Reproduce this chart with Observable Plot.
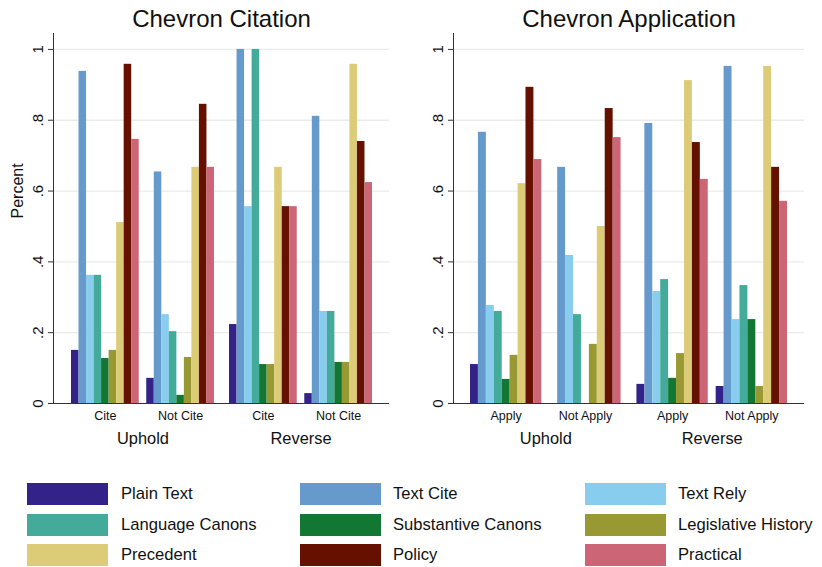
<!DOCTYPE html>
<html><head><meta charset="utf-8">
<script src="https://cdn.jsdelivr.net/npm/d3@7"></script>
<script src="https://cdn.jsdelivr.net/npm/@observablehq/plot@0.6"></script>
<style>
body{margin:0;background:#fff;}
#wrap{position:relative;width:822px;height:567px;font-family:"Liberation Sans",Arial,Helvetica,sans-serif;background:#fff;overflow:hidden;}
.panel{position:absolute;top:0;}
.sw{position:absolute;width:81px;height:22px;}
.lab{position:absolute;font-size:16.6px;color:#111;line-height:22px;white-space:nowrap;}
</style></head><body><div id="wrap"></div>
<script>
const series = ["Plain Text","Text Cite","Text Rely","Language Canons","Substantive Canons","Legislative History","Precedent","Policy","Practical"];
const seriesColors = ["#332288","#6699cc","#88ccee","#44aa99","#117733","#999933","#ddcc77","#661100","#cc6677"];
const outcomes = ["Uphold","Reverse"];
const citationConditions = ["Cite","Not Cite"];
const applicationConditions = ["Apply","Not Apply"];
const yTicks = [0, 0.2, 0.4, 0.6, 0.8, 1];
const yTickLabels = ["0", ".2", ".4", ".6", ".8", "1"];

// Chevron Citation panel
const citeUpholdCite    = [0.150, 0.938, 0.362, 0.362, 0.127, 0.150, 0.511, 0.958, 0.746];
const citeUpholdNotCite = [0.071, 0.654, 0.251, 0.203, 0.023, 0.130, 0.667, 0.845, 0.667];
const citeReverseCite   = [0.223, 1.000, 0.556, 1.000, 0.110, 0.110, 0.667, 0.556, 0.556];
const citeReverseNotCite= [0.028, 0.811, 0.260, 0.260, 0.116, 0.116, 0.958, 0.740, 0.624];

// Chevron Application panel
const applyUpholdApply     = [0.110, 0.766, 0.277, 0.260, 0.068, 0.136, 0.621, 0.893, 0.689];
const applyUpholdNotApply  = [0.000, 0.667, 0.418, 0.251, 0.000, 0.167, 0.500, 0.833, 0.751];
const applyReverseApply    = [0.054, 0.791, 0.316, 0.350, 0.071, 0.141, 0.912, 0.737, 0.633];
const applyReverseNotApply = [0.048, 0.952, 0.237, 0.333, 0.237, 0.048, 0.952, 0.667, 0.571];

const FONT = '"Liberation Sans",Arial,Helvetica,sans-serif';

function panel(title, conds, values, opts) {
  const domain = [];
  outcomes.forEach((o, oi) => {
    if (oi > 0) domain.push("mid|a", "mid|b");
    conds.forEach((c, ci) => {
      if (ci > 0) domain.push(`${o}|gap`);
      series.forEach(s => domain.push(`${o}|${c}|${s}`));
    });
  });
  const rows = [];
  outcomes.forEach((o, oi) => conds.forEach((c, ci) => series.forEach((s, si) =>
    rows.push({key: `${o}|${c}|${s}`, series: s, value: values[oi][ci][si]}))));
  const midSeries = series[Math.floor(series.length / 2)];
  const condTicks = [];
  outcomes.forEach(o => conds.forEach(c => condTicks.push(`${o}|${c}|${midSeries}`)));
  const marks = [
    Plot.ruleY(yTicks.filter(d => d > 0), {stroke: "#ebebeb", strokeWidth: 1.3}),
    Plot.barY(rows, {x: "key", y: "value", fill: "series"}),
    Plot.ruleY([0], {stroke: "#333", insetLeft: -5}),
    Plot.frame({anchor: "left", stroke: "#333"}),
    Plot.axisY({ticks: yTicks, tickFormat: d => yTickLabels[yTicks.indexOf(d)], tickSize: 5, tickPadding: 6,
      tickRotate: -90, fontSize: 15, label: null, stroke: "#333", fill: "#111"}),
    Plot.axisX({ticks: condTicks, tickFormat: k => k.split("|")[1], tickSize: 0, tickPadding: 8,
      fontSize: 12.5, label: null, fill: "#111"}),
    Plot.axisX({ticks: outcomes.map(o => `${o}|gap`), tickFormat: k => k.split("|")[0], tickSize: 0, tickPadding: 29,
      fontSize: 16.4, label: null, fill: "#111"}),
    Plot.text([title], {frameAnchor: "top", dy: -14, fontSize: 24, lineAnchor: "middle", fill: "#111"})
  ];
  if (opts.yLabel) marks.push(Plot.text([opts.yLabel], {frameAnchor: "left", rotate: -90, dx: -36, fontSize: 16, fill: "#111"}));
  return Plot.plot({
    width: 411, height: 460, marginTop: 33, marginBottom: 57,
    marginLeft: opts.marginLeft, marginRight: opts.marginRight,
    x: {type: "band", domain, padding: 0, round: false, insetLeft: opts.insetLeft, insetRight: opts.insetRight},
    y: {domain: [0, 1.045]},
    color: {domain: series, range: seriesColors},
    style: {fontFamily: FONT, color: "#111", background: "white"},
    marks
  });
}

const wrap = document.getElementById("wrap");
const left = panel("Chevron Citation", citationConditions,
  [[citeUpholdCite, citeUpholdNotCite], [citeReverseCite, citeReverseNotCite]],
  {marginLeft: 53, marginRight: 22, insetLeft: 18, insetRight: 17, yLabel: "Percent"});
left.classList.add("panel"); left.style.left = "0px";
wrap.appendChild(left);
const right = panel("Chevron Application", applicationConditions,
  [[applyUpholdApply, applyUpholdNotApply], [applyReverseApply, applyReverseNotApply]],
  {marginLeft: 42, marginRight: 18, insetLeft: 17, insetRight: 17});
right.classList.add("panel"); right.style.left = "411px";
wrap.appendChild(right);

// Legend (3 columns x 3 rows)
const color = left.scale("color");
const swatchLeft = [27, 300, 585], labelLeft = [121, 393, 678];
series.forEach((s, i) => {
  const r = Math.floor(i / 3), c = i % 3;
  const top = 483 + r * 30.5;
  const sw = document.createElement("div");
  sw.className = "sw"; sw.style.left = swatchLeft[c] + "px"; sw.style.top = top + "px";
  sw.style.background = color.apply(s);
  const lb = document.createElement("div");
  lb.className = "lab"; lb.style.left = labelLeft[c] + "px"; lb.style.top = top + "px";
  lb.textContent = s;
  wrap.appendChild(sw); wrap.appendChild(lb);
});
</script></body></html>
